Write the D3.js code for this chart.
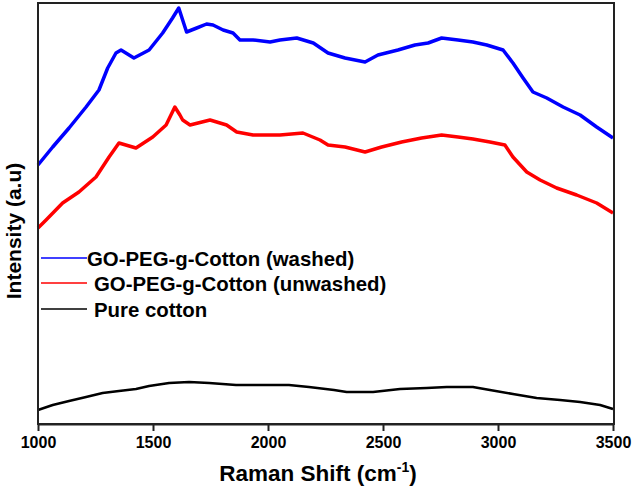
<!DOCTYPE html>
<html>
<head>
<meta charset="utf-8">
<script src="https://cdn.jsdelivr.net/npm/d3@7"></script>
<style>
  body { margin: 0; background: #fff; }
  svg { display: block; }
  text { font-family: "Liberation Sans", Arial, sans-serif; font-weight: bold; fill: #000; }
</style>
</head>
<body>
<svg id="chart" width="632" height="495"></svg>
<script>
// ---- data (intensity in arbitrary units) ----
const xTicks = [1000, 1500, 2000, 2500, 3000, 3500];

const washedShift = [1000,1064,1135,1209,1265,1303,1339,1361,1417,1483,1542,1585,1612,1636,1646,1690,1733,1761,1805,1848,1878,1935,2009,2052,2125,2197,2261,2335,2422,2478,2565,2639,2696,2755,2826,2891,2951,3022,3065,3109,3152,3212,3283,3357,3429,3500];
const washedIntensity = [259,277,296,317,334,356,371,374,366,374,391,406,416,399,392,396,400,399,394,391,384,384,382,384,386,381,371,366,362,369,374,379,381,386,384,382,379,374,361,346,332,326,317,309,297,286];

const unwashedShift = [1000,1035,1107,1178,1252,1309,1352,1426,1499,1557,1595,1617,1629,1661,1748,1820,1864,1935,2052,2152,2226,2261,2335,2422,2494,2581,2668,2755,2826,2891,2965,3030,3065,3125,3183,3255,3342,3429,3500];
const unwashedIntensity = [196,204,221,232,247,267,281,276,287,299,317,309,304,299,304,299,292,289,289,291,284,279,277,272,277,282,286,289,287,285,282,279,267,252,244,236,229,221,211];

const cottonShift = [1000,1064,1135,1209,1281,1352,1426,1483,1570,1657,1744,1861,1977,2091,2178,2287,2342,2457,2574,2690,2777,2891,2965,3065,3168,3270,3357,3444,3500];
const cottonIntensity = [14,19,23,27,31,33,35,38,41,42,41,39,39,39,37,34,32,32,35,36,37,37,34,30,26,24,22,19,15];

const seriesNames = ["GO-PEG-g-Cotton (washed)", "GO-PEG-g-Cotton (unwashed)", "Pure cotton"];
const seriesColors = ["#0000ff", "#ff0000", "#000000"];

// ---- layout ----
const svg = d3.select("#chart");
const plotLeft = 38, plotRight = 614, plotTop = 3, plotBottom = 424;

const x = d3.scaleLinear().domain([1000, 3500]).range([plotLeft, plotRight - 1]);
const y = d3.scaleLinear().domain([0, 421]).range([plotBottom, plotTop]);

const series = [
  { name: seriesNames[0], color: seriesColors[0], xs: washedShift, ys: washedIntensity, w: 3.5 },
  { name: seriesNames[1], color: seriesColors[1], xs: unwashedShift, ys: unwashedIntensity, w: 3.5 },
  { name: seriesNames[2], color: seriesColors[2], xs: cottonShift, ys: cottonIntensity, w: 2.5 }
];

const line = d3.line().x(d => x(d[0])).y(d => y(d[1]));

series.forEach(s => {
  svg.append("path")
    .datum(s.xs.map((v, i) => [v, s.ys[i]]))
    .attr("d", line)
    .attr("fill", "none")
    .attr("stroke", s.color)
    .attr("stroke-width", s.w)
    .attr("stroke-linejoin", "round");
});

// frame
svg.append("rect")
  .attr("x", plotLeft).attr("y", plotTop)
  .attr("width", plotRight - plotLeft).attr("height", plotBottom - plotTop)
  .attr("fill", "none").attr("stroke", "#222").attr("stroke-width", 2);

// x axis
const xAxis = d3.axisBottom(x).tickValues(xTicks).tickSize(7).tickSizeOuter(0).tickPadding(6).tickFormat(d3.format("d"));
const gx = svg.append("g").attr("transform", `translate(0,${plotBottom})`).call(xAxis);
gx.select(".domain").attr("stroke", "#222").attr("stroke-width", 2);
gx.selectAll(".tick line").attr("stroke", "#222").attr("stroke-width", 2);
gx.selectAll(".tick text")
  .attr("font-size", 16).attr("font-weight", "bold")
  .attr("font-family", "Liberation Sans, Arial, sans-serif")
  .attr("fill", "#000");

// axis titles
const xt = svg.append("text")
  .attr("x", 318).attr("y", 481)
  .attr("text-anchor", "middle").attr("font-size", 22.5);
xt.append("tspan").text("Raman Shift (cm");
xt.append("tspan").attr("font-size", 14).attr("dy", -9).text("-1");
xt.append("tspan").attr("dy", 9).text(")");

svg.append("text")
  .attr("transform", "translate(21,231) rotate(-90)")
  .attr("text-anchor", "middle").attr("font-size", 21)
  .text("Intensity (a.u)");

// legend
const legendY = [258, 283, 309];
const legendTextX = [87, 94, 94];
series.forEach((s, i) => {
  svg.append("line")
    .attr("x1", 41).attr("x2", 87)
    .attr("y1", legendY[i]).attr("y2", legendY[i])
    .attr("stroke", s.color).attr("stroke-width", 1.5);
  svg.append("text")
    .attr("x", legendTextX[i]).attr("y", legendY[i] + 7.5)
    .attr("font-size", 20.4)
    .text(s.name);
});
</script>
</body>
</html>
